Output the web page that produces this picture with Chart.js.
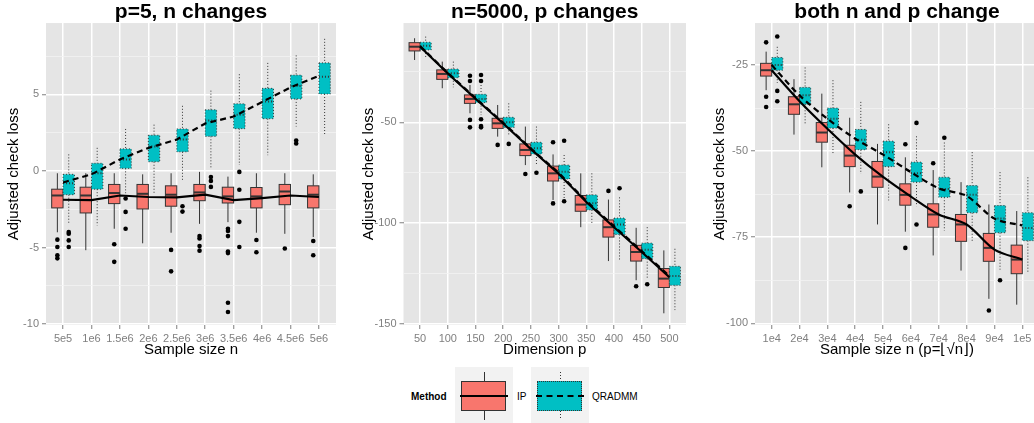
<!DOCTYPE html>
<html>
<head>
<meta charset="utf-8">
<script src="https://cdn.jsdelivr.net/npm/chart.js@4.4.1/dist/chart.umd.min.js"></script>
<style>
  body { margin: 0; background: #fff; font-family: "Liberation Sans", Arial, sans-serif; }
  #page { position: relative; width: 1034px; height: 423px; overflow: hidden; }
  canvas { position: absolute; top: 0; }
  .txt { position: absolute; top: 390px; height: 14px; line-height: 14px; font-size: 10px; color: #000; white-space: nowrap; }
  .key { position: absolute; top: 367px; width: 58px; height: 56px; background: #f2f2f2; }
  .key div { position: absolute; box-sizing: border-box; }
  .wh { left: 29px; width: 1px; height: 9px; background: #333; }
  .wh.dot { background: repeating-linear-gradient(to bottom, #333 0 1px, transparent 1px 3px); }
  .bx { left: 6px; top: 14px; width: 45px; height: 30px; border: 1px solid #333; }
  .bx.dot { border-style: dotted; }
  .md { left: 5px; top: 28px; width: 48px; height: 0; border-top: 2.5px solid #000; }
</style>
</head>
<body>
<div id="page">
  <canvas id="c1" width="345" height="362" style="left:0"></canvas>
  <canvas id="c2" width="345" height="362" style="left:345px"></canvas>
  <canvas id="c3" width="345" height="362" style="left:700px"></canvas>

  <div class="txt" style="left:411px;font-weight:bold">Method</div>
  <div class="key" style="left:455px">
    <div class="wh" style="top:5px"></div>
    <div class="wh" style="top:44px"></div>
    <div class="bx" style="background:#F8766D"></div>
    <div class="md"></div>
  </div>
  <div class="txt" style="left:517px">IP</div>
  <div class="key" style="left:531px">
    <div class="wh dot" style="top:5px"></div>
    <div class="wh dot" style="top:44px"></div>
    <div class="bx dot" style="background:#00BFC4"></div>
    <div class="md" style="border-top-style:dashed"></div>
  </div>
  <div class="txt" style="left:592px">QRADMM</div>
</div>

<script>
// box rows are [lower whisker, q1, median, q3, upper whisker]
const p1Labels = ['5e5', '1e6', '1.5e6', '2e6', '2.5e6', '3e6', '3.5e6', '4e6', '4.5e6', '5e6'];
const p1Ip = [
  [-4.0, -2.41, -1.6, -1.19, -0.15], [-5.17, -2.74, -1.6, -1.06, -0.15],
  [-3.77, -2.13, -1.44, -0.88, -0.15], [-4.72, -2.48, -1.49, -0.88, -0.22],
  [-4.03, -2.3, -1.55, -0.97, -0.15], [-3.45, -1.94, -1.4, -0.88, -0.06],
  [-3.34, -2.09, -1.66, -1.06, -0.37], [-4.03, -2.41, -1.66, -1.08, -0.15],
  [-4.1, -2.2, -1.34, -0.88, -0.15], [-4.31, -2.41, -1.55, -0.97, -0.22]
];
const p1Qr = [
  [-3.4, -1.55, -0.8, -0.22, 1.08], [-3.56, -1.19, -0.15, 0.5, 1.51],
  [-1.45, 0.17, 0.75, 1.44, 2.74], [-1.55, 0.6, 1.6, 2.33, 3.02],
  [-0.6, 1.25, 2.05, 2.74, 4.25], [0.2, 2.26, 3.3, 3.99, 5.24],
  [0.39, 2.76, 3.66, 4.38, 6.31], [1.03, 3.41, 4.53, 5.39, 7.05],
  [2.9, 4.7, 5.54, 6.25, 7.54], [2.3, 5.02, 6.14, 7.05, 8.62]
];
const p1IpOut = [[-4.48, -4.96, -5.5, -5.7], [], [-4.78, -5.93], [], [-5.15, -6.55],
  [-4.25, -4.4, -4.9, -5.2], [-3.77, -3.92, -4.25, -5.26, -5.36, -8.6, -9.2], [-4.5, -5.3], [-5.06], [-4.57, -5.5]];
const p1QrOut = [[-3.99, -4.1, -4.53, -4.96], [], [-1.8, -2.67, -3.77], [], [-2.3, -2.65],
  [-0.39, -0.65, -1.04], [-0.06, -1.23, -3.32, -4.96], [], [1.98, 1.79], []];
const p1IpMean = [-1.88, -1.9, -1.6, -1.7, -1.72, -1.55, -1.9, -1.77, -1.6, -1.7];
const p1QrMean = [-0.75, -0.22, 0.75, 1.5, 2.05, 3.1, 3.55, 4.5, 5.45, 6.2];

const p2Labels = ['50', '100', '150', '200', '250', '300', '350', '400', '450', '500'];
const p2Ip = [
  [-19.1, -14.6, -12.5, -10.5, -8.3], [-33.1, -28.7, -26.0, -24.0, -19.9],
  [-45.5, -40.6, -38.4, -36.4, -31.5], [-57.1, -53.0, -50.5, -48.0, -41.4],
  [-71.2, -66.5, -63.7, -60.7, -52.1], [-88.5, -79.1, -75.3, -71.7, -65.9],
  [-102.0, -94.1, -90.8, -86.3, -75.3], [-118.8, -106.9, -102.0, -98.4, -88.3],
  [-128.3, -118.8, -114.3, -111.0, -102.3], [-144.7, -131.9, -127.5, -122.5, -113.5]
];
const p2Qr = [
  [-18.3, -14.1, -12.0, -10.3, -7.5], [-32.6, -27.9, -25.7, -23.6, -19.9],
  [-46.4, -40.2, -38.4, -36.1, -31.5], [-56.3, -52.5, -50.0, -47.5, -40.6],
  [-70.7, -65.7, -62.9, -59.9, -52.1], [-88.0, -78.1, -74.5, -71.2, -66.2],
  [-100.8, -93.4, -90.1, -86.0, -75.3], [-118.0, -105.6, -100.7, -97.5, -87.2],
  [-127.5, -117.6, -113.2, -109.9, -102.0], [-143.1, -130.8, -126.2, -121.4, -112.7]
];
const p2IpOut = [[], [], [-26.9, -29.5, -48.8, -52.5], [-61.2], [-75.6], [-59.9, -90.2], [], [-84.0], [-131.3], []];
const p2QrOut = [[], [], [-26.5, -29.5, -48.5, -51.8, -52.5], [-60.7], [-75.0], [-59.1, -89.1], [], [-82.7], [-130.3], []];
const p2IpMean = [-12.5, -25.8, -38.3, -50.6, -63.3, -75.5, -89.5, -102.0, -114.3, -126.8];
const p2QrMean = [-12.2, -25.5, -38.0, -50.2, -63.0, -75.0, -89.0, -101.5, -113.8, -126.2];

const p3Labels = ['1e4', '2e4', '3e4', '4e4', '5e4', '6e4', '7e4', '8e4', '9e4', '1e5'];
const p3Ip = [
  [-32.3, -28.2, -26.5, -24.5, -21.1], [-45.2, -39.3, -36.4, -34.2, -29.1],
  [-54.7, -47.4, -44.6, -41.7, -33.3], [-62.0, -54.5, -51.3, -48.3, -40.3],
  [-71.3, -60.5, -57.4, -53.0, -47.9], [-73.4, -65.7, -62.7, -59.5, -51.8],
  [-80.3, -72.1, -68.4, -65.3, -55.5], [-84.7, -76.2, -71.3, -68.4, -59.0],
  [-92.9, -82.0, -78.1, -73.9, -65.5], [-94.6, -85.6, -81.5, -77.3, -67.4]
];
const p3Qr = [
  [-30.2, -26.5, -25.0, -22.8, -19.7], [-42.5, -36.4, -33.8, -31.5, -25.7],
  [-50.6, -43.3, -40.6, -37.5, -29.4], [-56.6, -49.6, -46.7, -43.7, -35.7],
  [-64.3, -54.5, -50.3, -47.1, -42.2], [-66.0, -59.0, -56.4, -53.2, -45.7],
  [-73.1, -63.4, -61.0, -57.6, -47.5], [-76.2, -67.9, -62.7, -60.0, -50.3],
  [-84.4, -73.7, -69.6, -65.8, -56.1], [-85.1, -76.0, -72.3, -67.9, -57.6]
];
const p3IpOut = [[-18.4, -34.2, -37.2], [], [], [-66.0], [], [-48.0, -78.1], [-53.5], [], [-96.3], []];
const p3QrOut = [[-16.7, -32.5, -35.5], [], [], [-61.7], [], [-41.8, -71.3], [-46.1], [], [-87.5], []];
const p3IpMean = [-26.5, -35.5, -43.5, -51.0, -57.5, -63.2, -68.4, -71.3, -78.6, -81.5];
const p3QrMean = [-25.0, -33.8, -40.6, -46.4, -51.0, -56.1, -60.8, -63.0, -69.6, -71.6];

Chart.defaults.font.family = '"Liberation Sans", Arial, sans-serif';
Chart.defaults.animation = false;

const IP_FILL = '#F8766D';
const QR_FILL = '#00BFC4';
const DOTTED = [1, 2];

// grey panel behind the grid
const panelBg = {
  id: 'panelBg',
  beforeDraw(chart) {
    const { ctx, chartArea: a } = chart;
    ctx.save();
    ctx.fillStyle = '#E5E5E5';
    ctx.fillRect(a.left, a.top, a.right - a.left, a.bottom - a.top);
    ctx.restore();
  }
};

// boxes + whiskers, drawn on the scales before the lines and outliers
const boxPlot = {
  id: 'boxPlot',
  beforeDatasetsDraw(chart, args, opts) {
    const { ctx, scales: { x, y } } = chart;
    const half = x.getPixelForValue(0.2) - x.getPixelForValue(0);
    ctx.save();
    opts.groups.forEach(g => {
      g.rows.forEach((r, i) => {
        const [lo, q1, med, q3, hi] = r.map(v => y.getPixelForValue(v));
        const cx = x.getPixelForValue(i + g.shift);
        ctx.strokeStyle = '#333';
        ctx.lineWidth = 1;
        ctx.setLineDash(g.dash);
        ctx.beginPath();
        ctx.moveTo(cx, hi); ctx.lineTo(cx, q3);
        ctx.moveTo(cx, q1); ctx.lineTo(cx, lo);
        ctx.stroke();
        ctx.fillStyle = g.fill;
        ctx.fillRect(cx - half, q3, 2 * half, q1 - q3);
        ctx.strokeRect(cx - half, q3, 2 * half, q1 - q3);
        ctx.lineWidth = 2;
        ctx.beginPath();
        ctx.moveTo(cx - half, med); ctx.lineTo(cx + half, med);
        ctx.stroke();
      });
    });
    ctx.restore();
  }
};

const pts = (groups, shift) => groups.flatMap((g, i) => g.map(v => ({ x: i + shift, y: v })));
const line = vals => vals.map((v, i) => ({ x: i, y: v }));

function makePanel(p) {
  const yTicks = p.yMajor.concat(p.yMinor).filter(v => v >= p.yMin && v <= p.yMax).sort((a, b) => a - b);
  const isMajor = v => p.yMajor.includes(v);
  return new Chart(document.getElementById(p.id), {
    type: 'scatter',
    data: {
      datasets: [
        { data: line(p.ipMean), showLine: true, borderColor: '#000', borderWidth: 2.2, pointRadius: 0, tension: p.tension },
        { data: line(p.qrMean), showLine: true, borderColor: '#000', borderWidth: 2.2, borderDash: [6, 4], pointRadius: 0, tension: p.tension },
        { data: pts(p.ipOut, -0.2), pointRadius: 2.3, backgroundColor: '#000', borderWidth: 0 },
        { data: pts(p.qrOut, 0.2), pointRadius: 2.3, backgroundColor: '#000', borderWidth: 0 }
      ]
    },
    options: {
      responsive: false,
      events: [],
      layout: { padding: { left: 0, right: p.right, top: 0, bottom: 0 } },
      plugins: {
        legend: { display: false },
        tooltip: { enabled: false },
        title: {
          display: true, text: p.title, color: '#000', fullSize: false,
          font: { size: 21, weight: 'bold', lineHeight: 1.05 },
          padding: { top: 1, bottom: 0 }
        },
        boxPlot: {
          groups: [
            { rows: p.ip, shift: -0.2, fill: IP_FILL, dash: [] },
            { rows: p.qr, shift: 0.2, fill: QR_FILL, dash: DOTTED }
          ]
        }
      },
      scales: {
        x: {
          type: 'linear', min: -0.6, max: 9.6,
          afterBuildTicks: s => { s.ticks = p.labels.map((_, i) => ({ value: i })); },
          afterFit: s => { s.height = 37; },
          ticks: { autoSkip: false, maxRotation: 0, color: '#7F7F7F', font: { size: 11 }, padding: 3,
                   callback: v => p.labels[v] },
          grid: { color: '#fff', lineWidth: 1.5, tickColor: '#7F7F7F', tickLength: 4, tickWidth: 1 },
          border: { display: false },
          title: { display: true, text: p.xTitle, color: '#000', font: { size: 15 }, padding: { top: 0, bottom: 3.5 } }
        },
        y: {
          type: 'linear', min: p.yMin, max: p.yMax,
          afterBuildTicks: s => { s.ticks = yTicks.map(v => ({ value: v })); },
          afterFit: s => { s.width = p.axisW; },
          ticks: { color: '#7F7F7F', font: { size: 11 }, padding: 3,
                   callback: v => isMajor(v) ? String(v) : '' },
          grid: {
            color: c => isMajor(c.tick.value) ? '#fff' : '#F2F2F2',
            lineWidth: c => isMajor(c.tick.value) ? 1.5 : 0.8,
            tickColor: c => isMajor(c.tick.value) ? '#7F7F7F' : 'rgba(0,0,0,0)',
            tickLength: 4, tickWidth: 1
          },
          border: { display: false },
          title: { display: true, text: 'Adjusted check loss', color: '#000', font: { size: 15 }, padding: { top: p.titlePad, bottom: 0 } }
        }
      }
    },
    plugins: [panelBg, boxPlot]
  });
}

makePanel({
  id: 'c1', title: 'p=5, n changes', xTitle: 'Sample size n', labels: p1Labels,
  ip: p1Ip, qr: p1Qr, ipOut: p1IpOut, qrOut: p1QrOut, ipMean: p1IpMean, qrMean: p1QrMean,
  yMin: -10.05, yMax: 9.65, yMajor: [-10, -5, 0, 5], yMinor: [-7.5, -2.5, 2.5, 7.5],
  axisW: 46, titlePad: 5, right: 9, tension: 0
});
makePanel({
  id: 'c2', title: 'n=5000, p changes', xTitle: 'Dimension p', labels: p2Labels,
  ip: p2Ip, qr: p2Qr, ipOut: p2IpOut, qrOut: p2QrOut, ipMean: p2IpMean, qrMean: p2QrMean,
  yMin: -150.5, yMax: -0.77, yMajor: [-150, -100, -50], yMinor: [-125, -75, -25],
  axisW: 58.5, titlePad: 14.5, right: 4, tension: 0
});
makePanel({
  id: 'c3', title: 'both n and p change', xTitle: 'Sample size n (p=\u230A\u221An\u230B)', labels: p3Labels,
  ip: p3Ip, qr: p3Qr, ipOut: p3IpOut, qrOut: p3QrOut, ipMean: p3IpMean, qrMean: p3QrMean,
  yMin: -100.5, yMax: -12.8, yMajor: [-100, -75, -50, -25], yMinor: [-87.5, -62.5, -37.5],
  axisW: 55, titlePad: 10.5, right: 6, tension: 0.3
});
</script>
</body>
</html>
